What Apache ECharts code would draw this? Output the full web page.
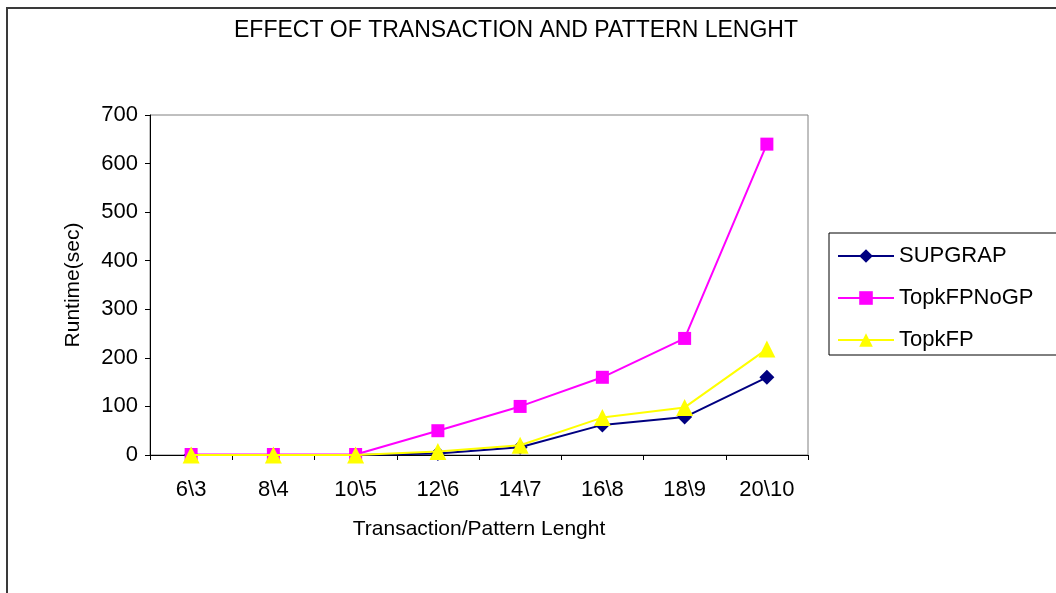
<!DOCTYPE html>
<html>
<head>
<meta charset="utf-8">
<script src="https://cdn.jsdelivr.net/npm/echarts@6/dist/echarts.min.js"></script>
<style>
  html, body { margin: 0; padding: 0; background: #fff; }
  #chart { width: 1056px; height: 593px; }
</style>
</head>
<body>
<div id="chart"></div>
<script>
// categories (transaction \ pattern length)
const categories = ['6\\3', '8\\4', '10\\5', '12\\6', '14\\7', '16\\8', '18\\9', '20\\10']
// runtime in seconds
const supgrap = [0, 0, 0, 3, 16, 62, 78, 160]
const topkFPNoGP = [1, 1, 1, 50, 100, 160, 240, 640]
const topkFP = [0, 0, 0, 7, 20, 77, 98, 218]
const yTicks = { min: 0, max: 700, interval: 100 }

const chart = echarts.init(document.getElementById('chart'))
const font = 'Liberation Sans, Arial, sans-serif'

chart.setOption({
  backgroundColor: '#fff',
  animation: false,
  textStyle: { fontFamily: font },
  graphic: [{
    type: 'rect',
    shape: { x: 7, y: 8, width: 1100, height: 620 },
    style: { fill: 'none', stroke: '#3a3a3a', lineWidth: 2 },
    silent: true
  }],
  title: {
    text: 'EFFECT OF TRANSACTION AND PATTERN LENGHT',
    left: 511,
    textAlign: 'center',
    top: 14,
    textStyle: { fontFamily: font, fontSize: 23, fontWeight: 'normal', color: '#000' }
  },
  legend: {
    orient: 'vertical',
    left: 829,
    top: 233,
    width: 240,
    padding: [12, 40, 4, 8],
    itemGap: 20,
    itemWidth: 56,
    itemHeight: 17,
    borderColor: '#000',
    borderWidth: 1,
    textStyle: { fontFamily: font, fontSize: 22, color: '#000' },
    data: ['SUPGRAP', 'TopkFPNoGP', 'TopkFP']
  },
  grid: { left: 150, right: 248, top: 115, bottom: 138, show: true, borderColor: '#808080', borderWidth: 1 },
  xAxis: {
    type: 'category',
    data: categories,
    boundaryGap: true,
    name: 'Transaction/Pattern Lenght',
    nameLocation: 'middle',
    nameGap: 64,
    nameTextStyle: { fontFamily: font, fontSize: 21, color: '#000' },
    axisLine: { lineStyle: { color: '#000', width: 1 } },
    axisTick: { show: true, length: 5, inside: false, lineStyle: { color: '#000' } },
    axisLabel: { fontFamily: font, fontSize: 22, color: '#000', margin: 24 },
    splitLine: { show: false }
  },
  yAxis: {
    type: 'value',
    min: yTicks.min,
    max: yTicks.max,
    interval: yTicks.interval,
    name: 'Runtime(sec)',
    nameLocation: 'middle',
    nameGap: 66,
    nameTextStyle: { fontFamily: font, fontSize: 21, color: '#000' },
    axisLine: { show: true, lineStyle: { color: '#000', width: 1 } },
    axisTick: { show: true, length: 5, lineStyle: { color: '#000' } },
    axisLabel: { fontFamily: font, fontSize: 22, color: '#000', margin: 12 },
    splitLine: { show: false }
  },
  series: [
    {
      name: 'SUPGRAP',
      type: 'line',
      data: supgrap,
      symbol: 'diamond',
      symbolSize: 15,
      lineStyle: { color: '#000080', width: 2 },
      itemStyle: { color: '#000080' },
      z: 2
    },
    {
      name: 'TopkFPNoGP',
      type: 'line',
      data: topkFPNoGP,
      symbol: 'rect',
      symbolSize: 13,
      lineStyle: { color: '#ff00ff', width: 2 },
      itemStyle: { color: '#ff00ff' },
      z: 3
    },
    {
      name: 'TopkFP',
      type: 'line',
      data: topkFP,
      symbol: 'triangle',
      symbolSize: 17,
      lineStyle: { color: '#ffff00', width: 2 },
      itemStyle: { color: '#ffff00' },
      z: 4
    }
  ]
})
</script>
</body>
</html>
